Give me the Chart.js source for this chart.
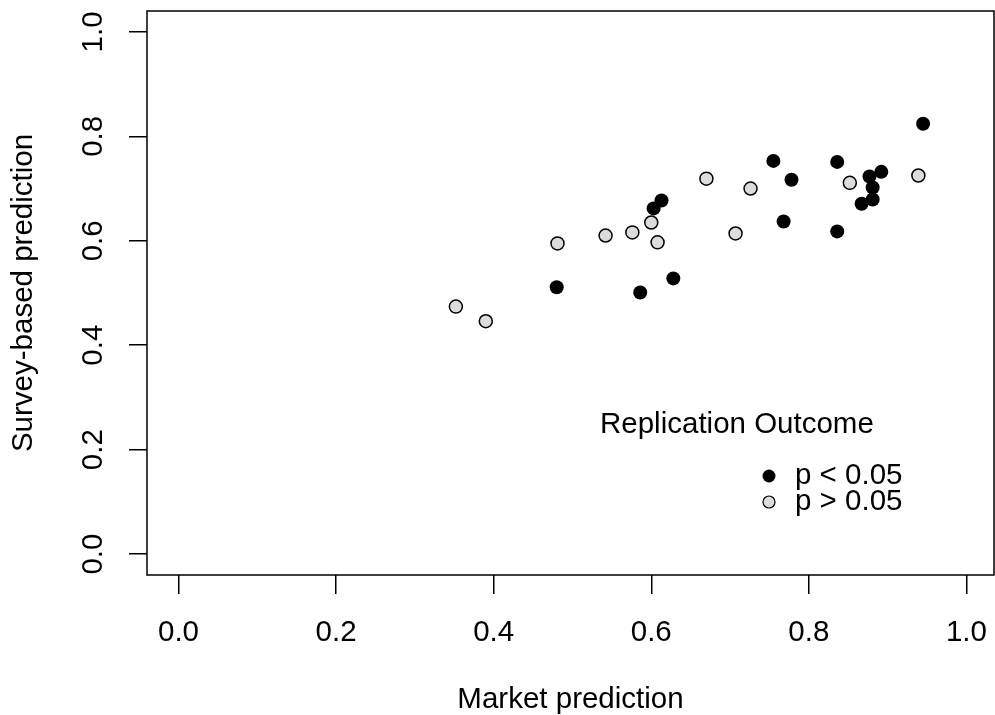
<!DOCTYPE html>
<html>
<head>
<meta charset="utf-8">
<script src="https://cdn.jsdelivr.net/npm/chart.js@4.4.1/dist/chart.umd.min.js"></script>
<style>
body { margin: 0; background: #fff; }
canvas { display: block; background: #fff; }
</style>
</head>
<body>
<canvas id="scatter" width="995" height="715"></canvas>
<script>
// replicated, p < 0.05
var sigX = [0.945, 0.755, 0.836, 0.778, 0.892, 0.877, 0.881, 0.881, 0.867, 0.613, 0.603, 0.768, 0.836, 0.480, 0.586, 0.628];
var sigY = [0.824, 0.753, 0.751, 0.717, 0.732, 0.723, 0.702, 0.679, 0.671, 0.677, 0.662, 0.637, 0.618, 0.511, 0.501, 0.528];
// not replicated, p > 0.05
var nsX = [0.939, 0.852, 0.670, 0.726, 0.600, 0.576, 0.542, 0.608, 0.707, 0.481, 0.352, 0.390];
var nsY = [0.725, 0.711, 0.719, 0.700, 0.635, 0.616, 0.610, 0.597, 0.614, 0.595, 0.474, 0.446];

var tickValues = [0, 0.2, 0.4, 0.6, 0.8, 1.0];
var legendTitle = 'Replication Outcome';
var legendLabels = ['p < 0.05', 'p > 0.05'];
var xTitle = 'Market prediction';
var yTitle = 'Survey-based prediction';

var FONT = '"Liberation Sans", Arial, sans-serif';
var FSIZE = 29.5;
var GREY = '#dcdcdc';

function toPoints(xs, ys) {
    return xs.map(function (x, i) { return { x: x, y: ys[i] }; });
}

function setTicks(scale) {
    scale.ticks = tickValues.map(function (v) { return { value: v }; });
}

// box, rotated y labels and the legend, drawn the way base R does it
var rStyle = {
    id: 'rStyle',
    afterDraw: function (chart) {
        var ctx = chart.ctx;
        var a = chart.chartArea;
        var ys = chart.scales.y;
        ctx.save();
        ctx.strokeStyle = '#000';
        ctx.lineWidth = 1.5;
        ctx.strokeRect(a.left, a.top, a.right - a.left, a.bottom - a.top);

        ctx.fillStyle = '#000';
        ctx.font = FSIZE + 'px ' + FONT;
        ctx.textAlign = 'center';
        ctx.textBaseline = 'alphabetic';
        ys.ticks.forEach(function (t) {
            var py = ys.getPixelForValue(t.value);
            ctx.save();
            ctx.translate(102, py);
            ctx.rotate(-Math.PI / 2);
            ctx.fillText(t.value.toFixed(1), 0, 0);
            ctx.restore();
        });
        ctx.save();
        ctx.translate(32, (a.top + a.bottom) / 2);
        ctx.rotate(-Math.PI / 2);
        ctx.fillText(yTitle, 0, 0);
        ctx.restore();

        // legend
        ctx.textAlign = 'left';
        ctx.fillText(legendTitle, 600, 433);
        var fills = ['#000', GREY];
        legendLabels.forEach(function (lab, i) {
            var cy = 476 + i * 26;
            ctx.beginPath();
            ctx.arc(769, cy, i === 0 ? 6.5 : 6, 0, Math.PI * 2);
            ctx.fillStyle = fills[i];
            ctx.fill();
            if (i === 1) {
                ctx.lineWidth = 1.2;
                ctx.strokeStyle = '#000';
                ctx.stroke();
            }
            ctx.fillStyle = '#000';
            ctx.textBaseline = 'middle';
            ctx.fillText(lab, 795, cy);
        });
        ctx.restore();
    }
};

var ctx = document.getElementById('scatter').getContext('2d');
new Chart(ctx, {
    type: 'scatter',
    data: {
        datasets: [{
            label: legendLabels[1],
            data: toPoints(nsX, nsY),
            backgroundColor: GREY,
            borderColor: '#000',
            borderWidth: 1.5,
            pointRadius: 6.5
        }, {
            label: legendLabels[0],
            data: toPoints(sigX, sigY),
            backgroundColor: '#000',
            borderColor: '#000',
            borderWidth: 0,
            pointRadius: 7
        }]
    },
    options: {
        responsive: false,
        animation: false,
        layout: { autoPadding: false, padding: { top: 11, right: 1, left: 0, bottom: 0 } },
        plugins: { legend: { display: false }, tooltip: { enabled: false } },
        scales: {
            x: {
                type: 'linear',
                min: -0.04,
                max: 1.035,
                afterBuildTicks: setTicks,
                afterFit: function (s) {
                    s.height = 140;
                    s.paddingLeft = 0;
                    s.paddingRight = 0;
                },
                border: { display: false },
                grid: { drawOnChartArea: false, drawTicks: true, tickLength: 19, color: '#000', lineWidth: 1.5 },
                ticks: {
                    color: '#000',
                    font: { family: FONT, size: FSIZE },
                    padding: 21,
                    maxRotation: 0,
                    callback: function (v) { return Number(v).toFixed(1); }
                },
                title: {
                    display: true,
                    text: xTitle,
                    color: '#000',
                    font: { family: FONT, size: FSIZE, lineHeight: 1 },
                    padding: { top: 0, bottom: 0 }
                }
            },
            y: {
                type: 'linear',
                min: -0.04,
                max: 1.04,
                afterBuildTicks: setTicks,
                afterFit: function (s) {
                    s.width = 147;
                    s.paddingTop = 0;
                    s.paddingBottom = 0;
                },
                border: { display: false },
                grid: { drawOnChartArea: false, drawTicks: true, tickLength: 18, color: '#000', lineWidth: 1.5 },
                ticks: { display: false }
            }
        }
    },
    plugins: [rStyle]
});
</script>
</body>
</html>
